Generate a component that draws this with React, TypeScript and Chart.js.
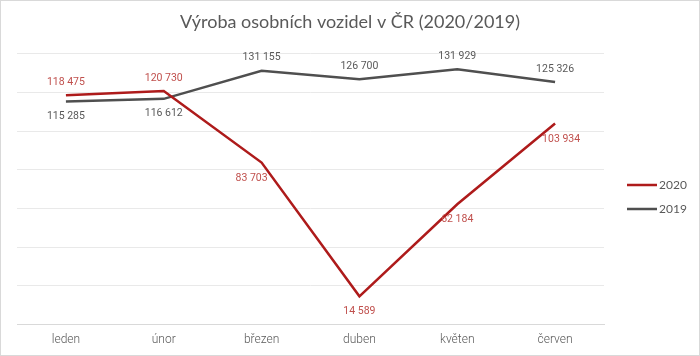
import React, { useEffect, useRef } from 'react';
import { Chart, registerables } from 'chart.js';

Chart.register(...registerables);

const chartTitle = 'Výroba osobních vozidel v ČR (2020/2019)';
const months = ['leden', 'únor', 'březen', 'duben', 'květen', 'červen'];
const seriesNames = ['2020', '2019'];
const values2020 = [118475, 120730, 83703, 14589, 62184, 103934];
const values2019 = [115285, 116612, 131155, 126700, 131929, 125326];
const yMin = 0;
const yMax = 140000;
const yStep = 20000;

// label placement keywords (not coordinates)
const placement2020 = ['above', 'above', 'below-left', 'below', 'below', 'below-right'];
const placement2019 = ['below', 'below', 'above', 'above', 'above', 'above'];

const RED = '#AE1B1B';
const RED_LABEL = '#C0504D';
const GRAY = '#4F4F4F';
const GRAY_LABEL = '#595959';
const TEXT = '#595959';
const LABEL_FONT = 'Roboto, sans-serif';
const MAIN_FONT = 'Lato, Roboto, sans-serif';

function fmt(v: number): string {
  return String(v).replace(/\B(?=(\d{3})+(?!\d))/g, ' ');
}

function offsetFor(p: string): [number, number] {
  switch (p) {
    case 'above': return [0, -13];
    case 'below': return [0, 15];
    case 'below-left': return [-10, 16];
    case 'below-right': return [6, 16];
    default: return [0, -13];
  }
}

const bgPlugin = {
  id: 'bgBorder',
  beforeDraw(chart: any) {
    const { ctx, width, height } = chart;
    ctx.save();
    ctx.fillStyle = '#ffffff';
    ctx.fillRect(0, 0, width, height);
    ctx.strokeStyle = '#D9D9D9';
    ctx.lineWidth = 1;
    ctx.strokeRect(0.5, 0.5, width - 1, height - 1);
    ctx.restore();
  },
};

const labelPlugin = {
  id: 'pointLabels',
  afterDatasetsDraw(chart: any) {
    const { ctx } = chart;
    ctx.save();
    ctx.font = `10.5px ${LABEL_FONT}`;
    ctx.textAlign = 'center';
    ctx.textBaseline = 'middle';
    chart.data.datasets.forEach((ds: any, di: number) => {
      const meta = chart.getDatasetMeta(di);
      const places: string[] = ds.labelPlacement;
      ctx.fillStyle = ds.labelColor;
      meta.data.forEach((pt: any, i: number) => {
        const [dx, dy] = offsetFor(places[i]);
        ctx.fillText(fmt(ds.data[i]), pt.x + dx, pt.y + dy);
      });
    });
    ctx.restore();
  },
};

const legendPlugin = {
  id: 'sideLegend',
  afterDraw(chart: any) {
    const { ctx, chartArea } = chart;
    const n = chart.data.datasets.length;
    const midY = (chartArea.top + chartArea.bottom) / 2 + 8;
    const x0 = chartArea.right + 23;
    ctx.save();
    ctx.font = `12px ${MAIN_FONT}`;
    ctx.textAlign = 'left';
    ctx.textBaseline = 'middle';
    chart.data.datasets.forEach((ds: any, i: number) => {
      const y = Math.round(midY + (i - (n - 1) / 2) * 24);
      ctx.strokeStyle = ds.borderColor;
      ctx.lineWidth = 2.5;
      ctx.beginPath();
      ctx.moveTo(x0, y);
      ctx.lineTo(x0 + 30, y);
      ctx.stroke();
      ctx.fillStyle = TEXT;
      ctx.fillText(ds.label, x0 + 32, y);
    });
    ctx.restore();
  },
};

export default function App() {
  const ref = useRef<HTMLCanvasElement | null>(null);
  useEffect(() => {
    document.body.style.margin = '0';
    const canvas = ref.current;
    if (!canvas) return;
    const chart = new Chart(canvas, {
      type: 'line',
      data: {
        labels: months,
        datasets: [
          {
            label: seriesNames[0],
            data: values2020,
            borderColor: RED,
            backgroundColor: RED,
            borderWidth: 2.5,
            pointRadius: 0,
            tension: 0,
            labelPlacement: placement2020,
            labelColor: RED_LABEL,
          } as any,
          {
            label: seriesNames[1],
            data: values2019,
            borderColor: GRAY,
            backgroundColor: GRAY,
            borderWidth: 2.5,
            pointRadius: 0,
            tension: 0,
            labelPlacement: placement2019,
            labelColor: GRAY_LABEL,
          } as any,
        ],
      },
      options: {
        responsive: false,
        animation: false,
        layout: { padding: { left: 0, right: 0, top: 0, bottom: 1 } },
        plugins: {
          legend: { display: false },
          tooltip: { enabled: false },
          title: {
            display: true,
            text: chartTitle,
            color: TEXT,
            font: { family: MAIN_FONT, size: 18, weight: 'normal' },
            padding: { top: 11, bottom: 21 },
          },
        },
        scales: {
          x: {
            offset: true,
            grid: { display: false, drawTicks: false },
            border: { display: true, color: '#D9D9D9', width: 1 },
            ticks: { color: TEXT, font: { family: 'Roboto, sans-serif', size: 12, weight: '300' as any }, padding: 8 },
          },
          y: {
            min: yMin,
            max: yMax,
            ticks: { display: false, stepSize: yStep },
            grid: { color: '#E9E9E9', drawTicks: false },
            border: { display: false },
            afterFit: (s: any) => { s.width = 17; },
          },
          yRight: {
            position: 'right',
            min: yMin,
            max: yMax,
            ticks: { display: false },
            grid: { display: false, drawTicks: false },
            border: { display: false },
            afterFit: (s: any) => { s.width = 96; },
          },
        },
      },
      plugins: [bgPlugin, labelPlugin, legendPlugin],
    });
    return () => chart.destroy();
  }, []);
  return <canvas ref={ref} width={700} height={356} style={{ display: 'block' }} />;
}
